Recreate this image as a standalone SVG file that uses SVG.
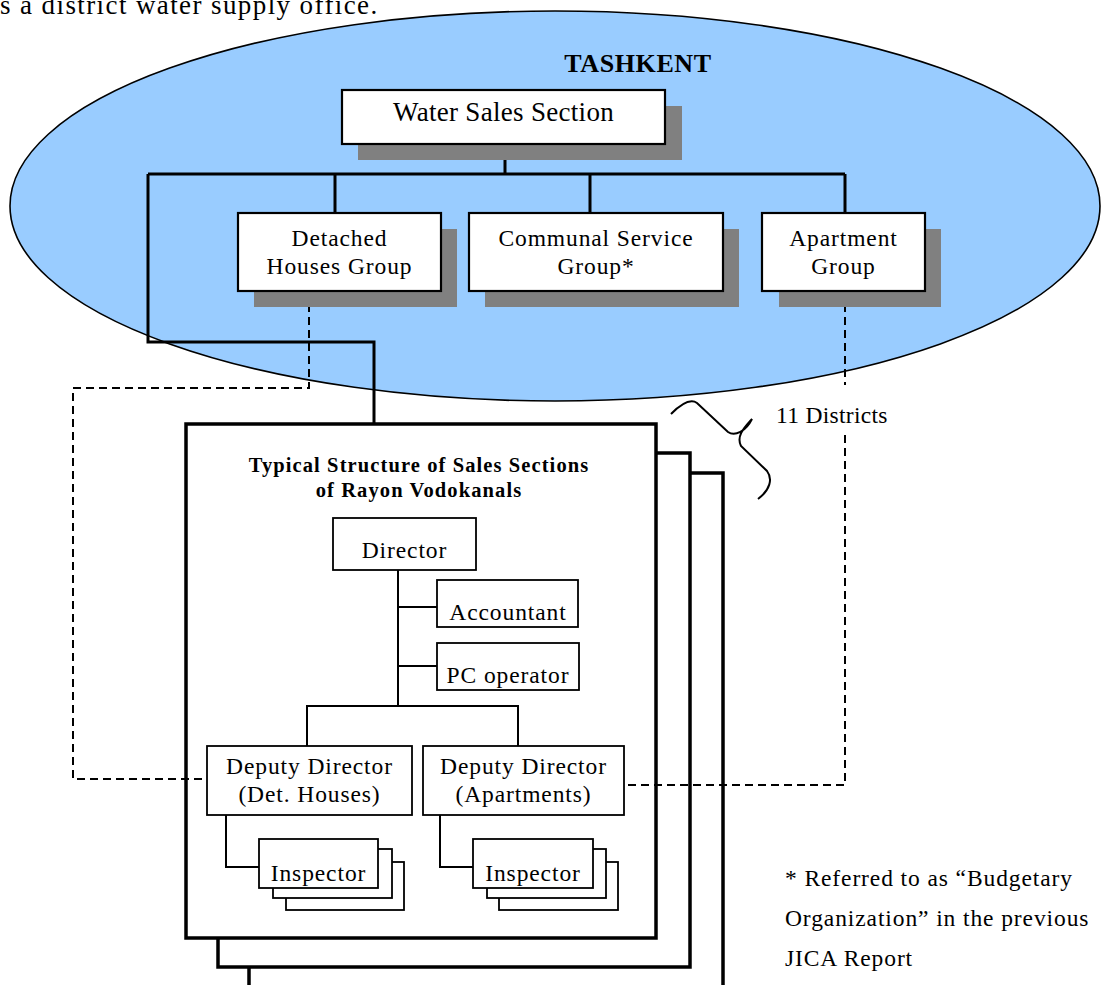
<svg xmlns="http://www.w3.org/2000/svg" width="1103" height="985" viewBox="0 0 1103 985">
  <style>
    text { font-family: "Liberation Serif", "Times New Roman", serif; fill: #000; }
    .t { font-size: 23.5px; letter-spacing: 0.9px; }
    .c { text-anchor: middle; }
    .big { font-size: 27px; letter-spacing: 0.3px; }
    .head { font-size: 26px; font-weight: bold; letter-spacing: 0.6px; }
    .title { font-size: 20.5px; font-weight: bold; letter-spacing: 1.1px; }
    .shadow { fill: #808080; }
    .box { fill: #fff; stroke: #000; stroke-width: 2.2; }
    .sbox { fill: #fff; stroke: #000; stroke-width: 1.8; }
    .frame { fill: #fff; stroke: #000; stroke-width: 3.5; }
    .thick { fill: none; stroke: #000; stroke-width: 3; }
    .thin { fill: none; stroke: #000; stroke-width: 2; }
    .dash { fill: none; stroke: #000; stroke-width: 2; stroke-dasharray: 8 5; }
  </style>

  <!-- running text line at the top of the page -->
  <text class="big" x="0" y="14" style="letter-spacing:1.4px">s a district water supply office.</text>

  <!-- city area -->
  <g id="tashkent">
    <ellipse cx="555" cy="206" rx="545" ry="195" fill="#99CCFF" stroke="#000" stroke-width="1.6"/>
    <text class="head c" x="638" y="72">TASHKENT</text>
  </g>

  <!-- stacked district frames -->
  <g id="district-frames">
    <rect class="frame" x="249" y="473" width="474" height="540"/>
    <rect class="frame" x="218" y="453" width="472" height="514"/>
    <rect class="frame" x="186" y="424" width="470" height="514"/>
    <text class="title c" x="419" y="472">Typical Structure of Sales Sections</text>
    <text class="title c" x="419" y="497">of Rayon Vodokanals</text>
  </g>

  <!-- connectors -->
  <g id="connectors">
    <path class="thick" d="M505,144 V174 M148,174 H845 M335,174 V213 M590,174 V213 M845,174 V213"/>
    <path class="thick" d="M148,174 V342 H374 V424"/>
    <path class="thin" d="M398,570 V706 M398,607 H437 M398,666 H437"/>
    <path class="thin" d="M307,746 V706 H518 V746"/>
    <path class="thin" d="M226,815 V867 H259 M440,815 V867 H473"/>
    <path class="dash" d="M309,291 V388 H73 V779 H207"/>
    <path class="dash" d="M845,291 V385 M845,435 V785 H624"/>
    <path fill="none" stroke="#000" stroke-width="2" d="M671,414 C681,404 690,398 697,403 L728,432 C735,437 746,431 752,419 C744,428 736,436 741,446 L767,471 C773,479 770,490 758,499"/>
  </g>

  <g id="water-sales-section">
    <rect class="shadow" x="358" y="106" width="324" height="54"/>
    <rect class="box" x="342" y="90" width="323" height="54"/>
    <text class="big c" x="503.5" y="121">Water Sales Section</text>
  </g>

  <g id="detached-houses-group">
    <rect class="shadow" x="254" y="229" width="203" height="78"/>
    <rect class="box" x="238" y="213" width="203" height="78"/>
    <text class="t c" x="339.5" y="246">Detached</text>
    <text class="t c" x="339.5" y="274">Houses Group</text>
  </g>

  <g id="communal-service-group">
    <rect class="shadow" x="485" y="229" width="254" height="78"/>
    <rect class="box" x="469" y="213" width="254" height="78"/>
    <text class="t c" x="596" y="246">Communal Service</text>
    <text class="t c" x="596" y="274">Group*</text>
  </g>

  <g id="apartment-group">
    <rect class="shadow" x="779" y="229" width="162" height="78"/>
    <rect class="box" x="762" y="213" width="163" height="78"/>
    <text class="t c" x="843.5" y="246">Apartment</text>
    <text class="t c" x="843.5" y="274">Group</text>
  </g>

  <!-- the dashed link resumes below this label -->
  <text class="t" x="776" y="423" style="letter-spacing:0.3px">11 Districts</text>

  <g id="director">
    <rect class="sbox" x="333" y="518" width="143" height="52"/>
    <text class="t c" x="404.5" y="558">Director</text>
  </g>

  <g id="accountant">
    <rect class="sbox" x="437" y="580" width="141" height="47"/>
    <text class="t c" x="508" y="620">Accountant</text>
  </g>

  <g id="pc-operator">
    <rect class="sbox" x="437" y="643" width="142" height="47"/>
    <text class="t c" x="508" y="683">PC operator</text>
  </g>

  <g id="deputy-det-houses">
    <rect class="sbox" x="207" y="746" width="205" height="69"/>
    <text class="t c" x="309.5" y="774">Deputy Director</text>
    <text class="t c" x="309.5" y="802">(Det. Houses)</text>
  </g>

  <g id="deputy-apartments">
    <rect class="sbox" x="423" y="746" width="201" height="69"/>
    <text class="t c" x="523.5" y="774">Deputy Director</text>
    <text class="t c" x="523.5" y="802">(Apartments)</text>
  </g>

  <g id="inspector-det-houses">
    <rect class="sbox" x="286" y="862" width="118" height="48"/>
    <rect class="sbox" x="273" y="849" width="119" height="49"/>
    <rect class="sbox" x="259" y="839" width="119" height="49"/>
    <text class="t c" x="318.5" y="881">Inspector</text>
  </g>

  <g id="inspector-apartments">
    <rect class="sbox" x="499" y="862" width="119" height="48"/>
    <rect class="sbox" x="487" y="849" width="119" height="49"/>
    <rect class="sbox" x="473" y="839" width="120" height="49"/>
    <text class="t c" x="533" y="881">Inspector</text>
  </g>

  <g id="footnote">
    <text class="t" x="785" y="886">* Referred to as “Budgetary</text>
    <text class="t" x="785" y="926">Organization” in the previous</text>
    <text class="t" x="785" y="966">JICA Report</text>
  </g>
</svg>
